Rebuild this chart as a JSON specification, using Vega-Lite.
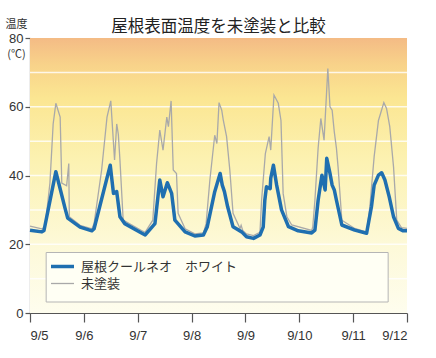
{
  "$schema": "https://vega.github.io/schema/vega-lite/v6.json",
  "width": 377,
  "height": 275,
  "autosize": {"type": "none"},
  "padding": {"left": 30, "top": 38, "right": 29, "bottom": 45},
  "background": "white",
  "title": {
    "text": "屋根表面温度を未塗装と比較",
    "font": "Noto Sans CJK JP",
    "fontSize": 16.5,
    "fontWeight": "normal",
    "color": "#222222",
    "anchor": "middle",
    "offset": -17
  },
  "config": {
    "view": {"stroke": null},
    "axis": {
      "labelFont": "Liberation Sans",
      "labelFontSize": 13,
      "labelColor": "#333333",
      "domainColor": "#555555",
      "tickColor": "#555555",
      "domainWidth": 1.2,
      "tickWidth": 1.2,
      "grid": false
    }
  },
  "datasets": {
    "temps": [
      {"t": 0.00, "v": 24.1, "s": "屋根クールネオ　ホワイト"},
      {"t": 0.22, "v": 23.6, "s": "屋根クールネオ　ホワイト"},
      {"t": 0.26, "v": 24.0, "s": "屋根クールネオ　ホワイト"},
      {"t": 0.48, "v": 41.1, "s": "屋根クールネオ　ホワイト"},
      {"t": 0.65, "v": 30.5, "s": "屋根クールネオ　ホワイト"},
      {"t": 0.70, "v": 27.6, "s": "屋根クールネオ　ホワイト"},
      {"t": 0.93, "v": 25.0, "s": "屋根クールネオ　ホワイト"},
      {"t": 1.15, "v": 23.9, "s": "屋根クールネオ　ホワイト"},
      {"t": 1.19, "v": 24.5, "s": "屋根クールネオ　ホワイト"},
      {"t": 1.49, "v": 43.0, "s": "屋根クールネオ　ホワイト"},
      {"t": 1.55, "v": 34.8, "s": "屋根クールネオ　ホワイト"},
      {"t": 1.61, "v": 35.3, "s": "屋根クールネオ　ホワイト"},
      {"t": 1.67, "v": 28.0, "s": "屋根クールネオ　ホワイト"},
      {"t": 1.76, "v": 26.0, "s": "屋根クールネオ　ホワイト"},
      {"t": 2.07, "v": 23.3, "s": "屋根クールネオ　ホワイト"},
      {"t": 2.14, "v": 22.7, "s": "屋根クールネオ　ホワイト"},
      {"t": 2.32, "v": 26.0, "s": "屋根クールネオ　ホワイト"},
      {"t": 2.41, "v": 38.7, "s": "屋根クールネオ　ホワイト"},
      {"t": 2.47, "v": 33.8, "s": "屋根クールネオ　ホワイト"},
      {"t": 2.55, "v": 37.9, "s": "屋根クールネオ　ホワイト"},
      {"t": 2.63, "v": 34.8, "s": "屋根クールネオ　ホワイト"},
      {"t": 2.69, "v": 27.0, "s": "屋根クールネオ　ホワイト"},
      {"t": 2.88, "v": 23.6, "s": "屋根クールネオ　ホワイト"},
      {"t": 3.06, "v": 22.4, "s": "屋根クールネオ　ホワイト"},
      {"t": 3.22, "v": 22.7, "s": "屋根クールネオ　ホワイト"},
      {"t": 3.29, "v": 25.0, "s": "屋根クールネオ　ホワイト"},
      {"t": 3.43, "v": 35.3, "s": "屋根クールネオ　ホワイト"},
      {"t": 3.53, "v": 40.6, "s": "屋根クールネオ　ホワイト"},
      {"t": 3.57, "v": 37.2, "s": "屋根クールネオ　ホワイト"},
      {"t": 3.61, "v": 35.3, "s": "屋根クールネオ　ホワイト"},
      {"t": 3.67, "v": 30.9, "s": "屋根クールネオ　ホワイト"},
      {"t": 3.77, "v": 25.1, "s": "屋根クールネオ　ホワイト"},
      {"t": 3.93, "v": 23.6, "s": "屋根クールネオ　ホワイト"},
      {"t": 4.02, "v": 22.2, "s": "屋根クールネオ　ホワイト"},
      {"t": 4.15, "v": 21.7, "s": "屋根クールネオ　ホワイト"},
      {"t": 4.27, "v": 22.7, "s": "屋根クールネオ　ホワイト"},
      {"t": 4.33, "v": 25.0, "s": "屋根クールネオ　ホワイト"},
      {"t": 4.36, "v": 32.8, "s": "屋根クールネオ　ホワイト"},
      {"t": 4.39, "v": 36.7, "s": "屋根クールネオ　ホワイト"},
      {"t": 4.46, "v": 36.2, "s": "屋根クールネオ　ホワイト"},
      {"t": 4.47, "v": 39.2, "s": "屋根クールネオ　ホワイト"},
      {"t": 4.52, "v": 43.0, "s": "屋根クールネオ　ホワイト"},
      {"t": 4.58, "v": 37.2, "s": "屋根クールネオ　ホワイト"},
      {"t": 4.67, "v": 30.0, "s": "屋根クールネオ　ホワイト"},
      {"t": 4.80, "v": 25.1, "s": "屋根クールネオ　ホワイト"},
      {"t": 4.98, "v": 23.9, "s": "屋根クールネオ　ホワイト"},
      {"t": 5.23, "v": 23.3, "s": "屋根クールネオ　ホワイト"},
      {"t": 5.29, "v": 24.1, "s": "屋根クールネオ　ホワイト"},
      {"t": 5.35, "v": 32.8, "s": "屋根クールネオ　ホワイト"},
      {"t": 5.42, "v": 40.1, "s": "屋根クールネオ　ホワイト"},
      {"t": 5.48, "v": 35.8, "s": "屋根クールネオ　ホワイト"},
      {"t": 5.51, "v": 45.0, "s": "屋根クールネオ　ホワイト"},
      {"t": 5.57, "v": 40.6, "s": "屋根クールネオ　ホワイト"},
      {"t": 5.61, "v": 37.2, "s": "屋根クールネオ　ホワイト"},
      {"t": 5.65, "v": 35.8, "s": "屋根クールネオ　ホワイト"},
      {"t": 5.69, "v": 32.8, "s": "屋根クールネオ　ホワイト"},
      {"t": 5.79, "v": 25.6, "s": "屋根クールネオ　ホワイト"},
      {"t": 6.03, "v": 24.1, "s": "屋根クールネオ　ホワイト"},
      {"t": 6.25, "v": 23.2, "s": "屋根クールネオ　ホワイト"},
      {"t": 6.34, "v": 30.9, "s": "屋根クールネオ　ホワイト"},
      {"t": 6.39, "v": 37.2, "s": "屋根クールネオ　ホワイト"},
      {"t": 6.47, "v": 40.1, "s": "屋根クールネオ　ホワイト"},
      {"t": 6.53, "v": 40.8, "s": "屋根クールネオ　ホワイト"},
      {"t": 6.59, "v": 38.7, "s": "屋根クールネオ　ホワイト"},
      {"t": 6.67, "v": 33.8, "s": "屋根クールネオ　ホワイト"},
      {"t": 6.75, "v": 28.0, "s": "屋根クールネオ　ホワイト"},
      {"t": 6.84, "v": 24.6, "s": "屋根クールネオ　ホワイト"},
      {"t": 6.93, "v": 23.9, "s": "屋根クールネオ　ホワイト"},
      {"t": 7.00, "v": 23.9, "s": "屋根クールネオ　ホワイト"},
      {"t": 0.00, "v": 25.3, "s": "未塗装"},
      {"t": 0.22, "v": 24.5, "s": "未塗装"},
      {"t": 0.28, "v": 25.0, "s": "未塗装"},
      {"t": 0.37, "v": 37.8, "s": "未塗装"},
      {"t": 0.43, "v": 55.0, "s": "未塗装"},
      {"t": 0.48, "v": 61.0, "s": "未塗装"},
      {"t": 0.56, "v": 57.0, "s": "未塗装"},
      {"t": 0.59, "v": 37.8, "s": "未塗装"},
      {"t": 0.68, "v": 37.0, "s": "未塗装"},
      {"t": 0.72, "v": 43.5, "s": "未塗装"},
      {"t": 0.73, "v": 28.0, "s": "未塗装"},
      {"t": 0.93, "v": 25.5, "s": "未塗装"},
      {"t": 1.15, "v": 24.5, "s": "未塗装"},
      {"t": 1.19, "v": 26.0, "s": "未塗装"},
      {"t": 1.33, "v": 41.6, "s": "未塗装"},
      {"t": 1.43, "v": 57.0, "s": "未塗装"},
      {"t": 1.50, "v": 61.7, "s": "未塗装"},
      {"t": 1.57, "v": 44.5, "s": "未塗装"},
      {"t": 1.61, "v": 55.0, "s": "未塗装"},
      {"t": 1.64, "v": 52.0, "s": "未塗装"},
      {"t": 1.67, "v": 44.5, "s": "未塗装"},
      {"t": 1.73, "v": 27.0, "s": "未塗装"},
      {"t": 2.07, "v": 24.0, "s": "未塗装"},
      {"t": 2.14, "v": 23.5, "s": "未塗装"},
      {"t": 2.28, "v": 27.0, "s": "未塗装"},
      {"t": 2.35, "v": 43.5, "s": "未塗装"},
      {"t": 2.41, "v": 53.2, "s": "未塗装"},
      {"t": 2.47, "v": 47.4, "s": "未塗装"},
      {"t": 2.54, "v": 57.0, "s": "未塗装"},
      {"t": 2.57, "v": 54.2, "s": "未塗装"},
      {"t": 2.62, "v": 61.7, "s": "未塗装"},
      {"t": 2.66, "v": 41.6, "s": "未塗装"},
      {"t": 2.72, "v": 40.6, "s": "未塗装"},
      {"t": 2.75, "v": 29.0, "s": "未塗装"},
      {"t": 2.88, "v": 24.5, "s": "未塗装"},
      {"t": 3.06, "v": 23.0, "s": "未塗装"},
      {"t": 3.22, "v": 23.3, "s": "未塗装"},
      {"t": 3.27, "v": 26.0, "s": "未塗装"},
      {"t": 3.34, "v": 38.7, "s": "未塗装"},
      {"t": 3.43, "v": 51.7, "s": "未塗装"},
      {"t": 3.47, "v": 49.3, "s": "未塗装"},
      {"t": 3.51, "v": 61.2, "s": "未塗装"},
      {"t": 3.56, "v": 59.0, "s": "未塗装"},
      {"t": 3.59, "v": 56.0, "s": "未塗装"},
      {"t": 3.65, "v": 51.3, "s": "未塗装"},
      {"t": 3.71, "v": 41.6, "s": "未塗装"},
      {"t": 3.77, "v": 29.0, "s": "未塗装"},
      {"t": 3.90, "v": 24.6, "s": "未塗装"},
      {"t": 3.92, "v": 25.5, "s": "未塗装"},
      {"t": 3.95, "v": 24.0, "s": "未塗装"},
      {"t": 4.02, "v": 23.0, "s": "未塗装"},
      {"t": 4.15, "v": 22.5, "s": "未塗装"},
      {"t": 4.27, "v": 23.5, "s": "未塗装"},
      {"t": 4.30, "v": 32.8, "s": "未塗装"},
      {"t": 4.37, "v": 46.4, "s": "未塗装"},
      {"t": 4.44, "v": 51.3, "s": "未塗装"},
      {"t": 4.47, "v": 47.4, "s": "未塗装"},
      {"t": 4.53, "v": 63.4, "s": "未塗装"},
      {"t": 4.61, "v": 61.0, "s": "未塗装"},
      {"t": 4.66, "v": 56.0, "s": "未塗装"},
      {"t": 4.70, "v": 34.8, "s": "未塗装"},
      {"t": 4.77, "v": 28.0, "s": "未塗装"},
      {"t": 4.86, "v": 25.6, "s": "未塗装"},
      {"t": 5.23, "v": 24.0, "s": "未塗装"},
      {"t": 5.25, "v": 25.0, "s": "未塗装"},
      {"t": 5.29, "v": 32.8, "s": "未塗装"},
      {"t": 5.35, "v": 48.0, "s": "未塗装"},
      {"t": 5.40, "v": 56.6, "s": "未塗装"},
      {"t": 5.46, "v": 50.3, "s": "未塗装"},
      {"t": 5.53, "v": 71.1, "s": "未塗装"},
      {"t": 5.57, "v": 60.0, "s": "未塗装"},
      {"t": 5.61, "v": 59.0, "s": "未塗装"},
      {"t": 5.65, "v": 52.7, "s": "未塗装"},
      {"t": 5.69, "v": 47.9, "s": "未塗装"},
      {"t": 5.72, "v": 42.5, "s": "未塗装"},
      {"t": 5.79, "v": 27.0, "s": "未塗装"},
      {"t": 6.03, "v": 24.6, "s": "未塗装"},
      {"t": 6.25, "v": 23.5, "s": "未塗装"},
      {"t": 6.31, "v": 30.9, "s": "未塗装"},
      {"t": 6.39, "v": 45.5, "s": "未塗装"},
      {"t": 6.47, "v": 56.0, "s": "未塗装"},
      {"t": 6.57, "v": 61.2, "s": "未塗装"},
      {"t": 6.62, "v": 59.5, "s": "未塗装"},
      {"t": 6.68, "v": 54.2, "s": "未塗装"},
      {"t": 6.75, "v": 42.5, "s": "未塗装"},
      {"t": 6.81, "v": 27.0, "s": "未塗装"},
      {"t": 6.90, "v": 24.8, "s": "未塗装"},
      {"t": 7.00, "v": 24.6, "s": "未塗装"}
    ],
    "grid": [{"g": 10}, {"g": 20}, {"g": 30}, {"g": 40}, {"g": 50}, {"g": 60}, {"g": 70}]
  },
  "layer": [
    {
      "data": {"values": [{}]},
      "mark": {
        "type": "rect",
        "color": {
          "gradient": "linear",
          "x1": 0, "y1": 0, "x2": 0, "y2": 1,
          "stops": [
            {"offset": 0, "color": "#f4bb85"},
            {"offset": 0.1, "color": "#f8d38a"},
            {"offset": 0.22, "color": "#fbe692"},
            {"offset": 0.45, "color": "#fcf2b2"},
            {"offset": 0.75, "color": "#fdf9d8"},
            {"offset": 1, "color": "#fefdee"}
          ]
        }
      },
      "encoding": {
        "x": {"datum": 0, "type": "quantitative", "scale": {"domain": [0, 7], "nice": false, "zero": false}, "axis": {
          "values": [0, 1, 2, 3, 4, 5, 6, 7],
          "labelExpr": "'9/' + (5 + datum.value)",
          "tickSize": 9,
          "labelPadding": 7,
          "title": null
        }},
        "x2": {"datum": 7},
        "y": {"datum": 0, "type": "quantitative", "scale": {"domain": [0, 80], "nice": false}, "axis": {
          "values": [0, 20, 40, 60, 80],
          "tickSize": 5,
          "labelPadding": 2,
          "title": ["温度", "(℃)"],
          "titleFont": "Noto Sans CJK JP",
          "titleFontSize": 11,
          "titleFontWeight": "normal",
          "titleColor": "#333333",
          "titleAngle": 0,
          "titleAlign": "center",
          "titleBaseline": "alphabetic",
          "titleLineHeight": 30,
          "titleX": -14,
          "titleY": -11
        }},
        "y2": {"datum": 80}
      }
    },
    {
      "data": {"name": "grid"},
      "mark": {"type": "rule", "color": "#ffffff", "strokeWidth": 1.5, "opacity": 0.8},
      "encoding": {"y": {"field": "g", "type": "quantitative"}}
    },
    {
      "data": {"values": [{}]},
      "mark": {"type": "rect", "fill": "#fffff4", "stroke": "#b5b5b5", "strokeWidth": 1},
      "encoding": {
        "x": {"datum": 0.3, "type": "quantitative"},
        "x2": {"datum": 6.65},
        "y": {"datum": 3.2, "type": "quantitative"},
        "y2": {"datum": 17.6}
      }
    },
    {
      "data": {"name": "temps"},
      "transform": [{"filter": "datum.s === '未塗装'"}],
      "mark": {"type": "line", "strokeWidth": 1.3, "interpolate": "linear"},
      "encoding": {
        "x": {"field": "t", "type": "quantitative"},
        "y": {"field": "v", "type": "quantitative"},
        "color": {"field": "s", "type": "nominal"}
      }
    },
    {
      "data": {"name": "temps"},
      "transform": [{"filter": "datum.s !== '未塗装'"}],
      "mark": {"type": "line", "strokeWidth": 3.5, "strokeJoin": "round"},
      "encoding": {
        "x": {"field": "t", "type": "quantitative"},
        "y": {"field": "v", "type": "quantitative"},
        "color": {
          "field": "s",
          "type": "nominal",
          "scale": {"domain": ["屋根クールネオ　ホワイト", "未塗装"], "range": ["#1f6fb0", "#a9a9a9"]},
          "legend": {
            "orient": "none",
            "legendX": 26,
            "legendY": 222,
            "title": null,
            "symbolType": "M-2,0H2",
            "symbolSize": 132,
            "symbolStrokeWidth": 3,
            "labelFont": "Noto Sans CJK JP",
            "labelFontSize": 13,
            "labelColor": "#333333",
            "labelOffset": 12,
            "rowPadding": 3,
            "labelLimit": 300,
            "encode": {"symbols": {"update": {"strokeWidth": {"signal": "datum.value === '未塗装' ? 1.3 : 3.5"}}}}
          }
        }
      }
    }
  ]
}
